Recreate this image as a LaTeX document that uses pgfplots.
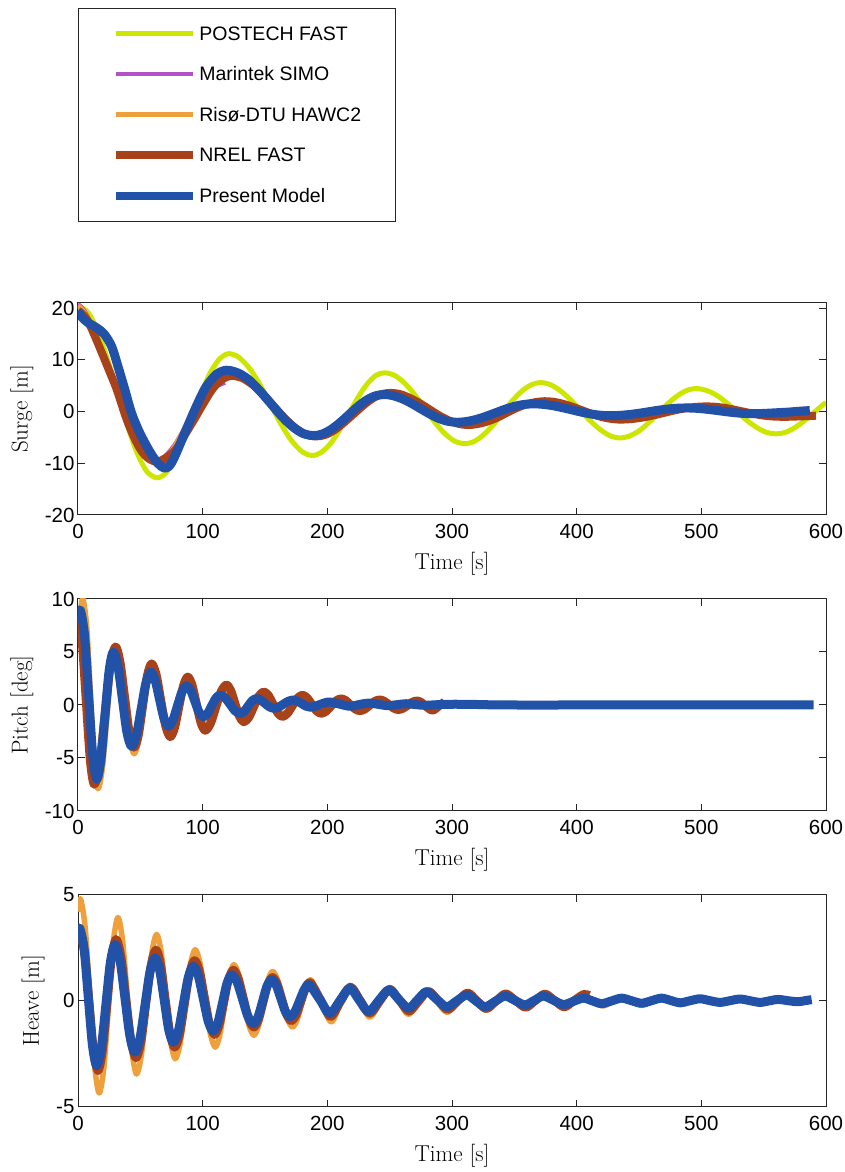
\documentclass[border=0pt]{standalone}
\usepackage{fontspec}
\usepackage{pgfplots}
\pgfplotsset{compat=1.18}
\newfontfamily\arialf{Liberation Sans}
\definecolor{postech}{RGB}{204,230,0}
\definecolor{marintek}{RGB}{180,80,200}
\definecolor{riso}{RGB}{238,160,60}
\definecolor{nrel}{RGB}{168,66,26}
\definecolor{present}{RGB}{33,82,168}
\definecolor{axc}{RGB}{38,38,38}
\pgfplotsset{
  mystyle/.style={
    scale only axis, width=748pt, height=212pt, anchor=south west,
    xmin=0, xmax=600, xtick={0,100,...,600}, xticklabels={0,100,200,300,400,500,600},
    tick align=inside, major tick length=7pt,
    axis line style={axc, line width=1pt},
    tick style={axc, line width=1pt},
    tick label style={font=\arialf\fontsize{20.5}{24}\selectfont, text=black},
    xticklabel style={yshift=-6pt},
    label style={font=\fontsize{23}{27}\selectfont},
    xlabel={Time [s]},
    xlabel style={at={(axis description cs:0.5,0)}, anchor=center, yshift=-49pt},
    every axis plot/.append style={smooth, line join=round},
  }
}
\begin{document}
\begin{tikzpicture}
\useasboundingbox (0,0) rectangle (845pt,1172pt);
% ---------------- Surge ----------------
\begin{axis}[mystyle, at={(78pt,657pt)},
  ymin=-20, ymax=21, ytick={-20,-10,0,10,20}, yticklabels={-20,-10,0,10,20},
  ylabel={Surge [m]},
  ylabel style={at={(axis description cs:-0.075,0.5)}, anchor=center},
  legend style={at={(axis description cs:0,2.393)}, anchor=north west, draw=axc, line width=0.8pt, fill=white,
    inner xsep=34pt, inner ysep=18.5pt, row sep=26.6pt, font=\arialf\fontsize{19.5}{23}\selectfont,
    nodes={inner sep=0pt, text depth=0pt},
    /tikz/every odd column/.append style={column sep=2pt}},
  legend cell align=left,
  legend image code/.code={\draw[#1] (0pt,0pt) -- (77pt,0pt);},
]
\addlegendimage{postech, line width=4.7pt}
\addlegendentry{POSTECH FAST}
\addlegendimage{marintek, line width=4.7pt}
\addlegendentry{Marintek SIMO}
\addlegendimage{riso, line width=5pt}
\addlegendentry{Risø-DTU HAWC2}
\addlegendimage{nrel, line width=8pt}
\addlegendentry{NREL FAST}
\addlegendimage{present, line width=8pt}
\addlegendentry{Present Model}

\addplot[postech, line width=5pt] coordinates {
(0,20.5)(8,19.2)(15.75,15.6)(23.6,10.2)(31.5,3.85)(39.4,-2.5)(47.25,-7.9)(55,-11.5)(63,-12.8)
(70,-12.0)(77.5,-9.3)(85,-5.3)(92,-0.8)(99,3.6)(106.5,7.7)(114,10.3)(121,11.2)
(129,10.5)(137.75,8.3)(146,5.2)(154.5,1.35)(163,-2.5)(171.25,-5.6)(180,-7.8)(188,-8.5)
(195,-7.9)(202.5,-6.2)(210,-3.5)(217,-0.5)(224,2.5)(231.5,5.2)(239,7.0)(246,7.5)
(254,7.0)(262,5.5)(270,3.3)(278,0.65)(286,-2.0)(294,-4.2)(302,-5.7)(310,-6.2)
(317.6,-5.8)(325.25,-4.5)(333,-2.6)(340.5,-0.3)(348,2.0)(355.75,3.9)(363.4,5.15)(371,5.6)
(379,5.2)(387,4.0)(395,2.3)(403,0.25)(411,-1.8)(419,-3.5)(427,-4.7)(435,-5.1)
(442.6,-4.7)(450.25,-3.7)(458,-2.1)(465.5,-0.3)(473,1.5)(480.75,3.05)(488.4,4.1)(496,4.45)
(504,4.1)(512,3.2)(520,1.76)(528,0.1)(536,-1.6)(544,-3.0)(552,-4.0)(560,-4.3)
(567.5,-4.0)(575,-3.1)(582.5,-1.8)(590,-0.25)(597.5,1.3)(600,1.7)};
\addplot[marintek, line width=4.5pt] coordinates {
(0,20.8)(5,19.5)(10,17.2)(17,13)(24,8.5)(31,4)(39,-1.8)(46,-5.6)(52,-7.8)(58,-9.0)(64,-9.3)
(70,-8.6)(78,-6.3)(87,-2.6)(95,0.6)(103,3.2)(110,4.8)(118,5.6)};
\addplot[riso, line width=5pt] coordinates {
(0,20.5)(5,19.2)(10,17)(17,12.8)(24,8.4)(31,4.2)(39,-1.6)(46,-5.5)(52,-8)(58,-9.3)(64,-9.6)
(70,-9.1)(78,-6.6)(87,-2.6)(95,0.8)(103,3.6)(110,5.4)(117,6.4)};
\addplot[nrel, line width=8pt] coordinates {
(0,19.5)(5,18.5)(10,16.5)(17,12.6)(24,8.5)(31,4.3)(39,-1.5)(46,-5.5)(52,-8)(58,-9.3)(64,-9.7)
(71,-8.9)(78.75,-7.27)(86,-4.4)(93.5,-1.4)(101,1.7)(108.25,4.47)(116,6.3)(123,6.9)
(131.5,6.5)(140,5.2)(148.5,3.3)(157,1.05)(165.5,-1.2)(174,-3.1)(182.5,-4.4)(191,-4.8)
(198.4,-4.5)(205.75,-3.57)(213,-2.2)(220.5,-0.6)(228,1.0)(235.25,2.37)(242.6,3.3)(250,3.6)
(257.9,3.4)(265.75,2.69)(273.6,1.7)(281.5,0.5)(289.4,-0.7)(297.25,-1.69)(305,-2.35)(313,-2.6)
(320.6,-2.4)(328.25,-1.93)(336,-1.2)(343.5,-0.3)(351,0.6)(358.75,1.33)(366.4,1.8)(374,2.0)
(381.6,1.88)(389.25,1.48)(397,0.9)(404.5,0.23)(412,-0.45)(419.75,-1.03)(427.4,-1.4)(435,-1.55)
(443.6,-1.45)(452.25,-1.18)(461,-0.76)(469.5,-0.28)(478,0.2)(486.75,0.63)(495.4,0.9)(504,1.0)
(511.4,0.92)(518.75,0.71)(526,0.38)(533.5,0)(541,-0.38)(548.25,-0.71)(555.6,-0.92)(563,-1.0)
(570,-1.0)(577,-0.95)(584.5,-0.88)(592,-0.8)};
\addplot[present, line width=9pt] coordinates {
(0,19.6)(3,18.3)(8,17.2)(15,16.2)(21,15.0)(27,12.6)(32,8.8)(37.5,4.3)(43,-0.3)(49.5,-4.1)
(57.5,-7.7)(64,-10.0)(69,-10.9)(73,-10.6)(77,-9.0)(84.5,-4.8)(92.5,-0.3)(98,2.6)(103,4.9)(111,7.2)(119,8.0)
(128,7.5)(136.8,6.2)(145.5,4.1)(154.2,1.68)(162.8,-0.75)(171.5,-2.8)(180.2,-4.2)(188.8,-4.65)
(195.8,-4.35)(202.85,-3.49)(209.9,-2.2)(216.9,-0.68)(223.9,0.85)(230.95,2.14)(238,3.0)(245,3.3)
(252.3,3.1)(259.7,2.51)(267,1.65)(274.35,0.62)(281.7,-0.4)(289,-1.28)(296.4,-1.86)(303.7,-2.07)
(311.4,-1.93)(319,-1.55)(326.7,-0.97)(334.35,-0.29)(342,0.4)(349.7,0.98)(357.3,1.36)(365,1.5)
(372.7,1.41)(380.4,1.16)(388.1,0.79)(395.9,0.35)(403.6,-0.09)(411.3,-0.46)(419,-0.71)(426.7,-0.8)
(434.3,-0.74)(442,-0.58)(449.7,-0.34)(457.4,-0.05)(465,0.24)(472.7,0.48)(480.3,0.64)(488,0.7)
(494.5,0.66)(501,0.54)(507.7,0.36)(514.5,0.15)(521.2,-0.06)(528,-0.24)(534.5,-0.36)(541,-0.4)
(548,-0.38)(555,-0.3)(562.5,-0.2)(570,-0.1)(578,0.05)(587,0.2)};
\end{axis}
% ---------------- Pitch ----------------
\begin{axis}[mystyle, at={(78pt,361pt)},
  ymin=-10, ymax=10, ytick={-10,-5,0,5,10}, yticklabels={-10,-5,0,5,10},
  ylabel={Pitch [deg]},
  ylabel style={at={(axis description cs:-0.075,0.5)}, anchor=center},
]
\addplot[marintek, line width=4.5pt] coordinates {
(0,8.5)(6.5,0.6)(13,-7.2)(21,-1)(29,5.2)(36.5,0.7)(44,-3.8)(51,-0.15)(58,3.5)(65.5,0.45)(73,-2.6)
(80,-0.15)(87,2.3)(94,0.15)(101,-2.0)(109.5,-0.2)(118,1.6)};
\addplot[riso, line width=5.5pt] coordinates {
(0,7.5)(2,9.0)(4,10)(7,7.38)(10,1.05)(13,-5.28)(16,-7.9)
(19.5,-6.01)(23,-1.45)(26.5,3.11)(30,5)
(33.75,3.59)(37.5,0.2)(41.25,-3.19)(45,-4.6)
(48.5,-3.43)(52,-0.6)(55.5,2.23)(59,3.4)
(62.75,2.51)(66.5,0.35)(70.25,-1.81)(74,-2.7)
(77.5,-1.98)(81,-0.25)(84.5,1.48)(88,2.2)
(91.5,1.61)(95,0.2)(98.5,-1.21)(102,-1.8)
(106,-1.33)(110,-0.2)(114,0.93)(118,1.4)
(121.75,1.02)(125.5,0.1)(129.25,-0.82)(133,-1.2)
(137,-0.89)(141,-0.15)(145,0.59)(149,0.9)
(152.75,0.65)(156.5,0.05)(160.25,-0.55)(164,-0.8)
(168,-0.6)(172,-0.1)(176,0.4)(180,0.6)
(187.5,0.05)(195,-0.5)(203,-0.08)(211,0.35)(218.5,0.03)(226,-0.3)};
\addplot[nrel, line width=8.5pt] coordinates {
(0,8.2)(3.25,5.9)(6.5,0.35)(9.75,-5.2)(13,-7.5)
(17.25,-5.6)(21.5,-1)(25.75,3.6)(30,5.5)
(33.75,4.1)(37.5,0.75)(41.25,-2.6)(45,-4)
(48.5,-2.84)(52,-0.05)(55.5,2.74)(59,3.9)
(62.75,2.89)(66.5,0.45)(70.25,-1.99)(74,-3)
(77.5,-2.17)(81,-0.18)(84.5,1.82)(88,2.65)
(91.5,1.91)(95,0.13)(98.5,-1.66)(102,-2.4)
(106.25,-1.77)(110.5,-0.25)(114.75,1.27)(119,1.9)
(122.5,1.39)(126,0.15)(129.5,-1.09)(133,-1.6)
(137,-1.18)(141,-0.18)(145,0.83)(149,1.25)
(152.75,0.91)(156.5,0.08)(160.25,-0.76)(164,-1.1)
(168,-0.8)(172,-0.08)(176,0.64)(180,0.94)
(183.75,0.68)(187.5,0.07)(191.25,-0.55)(195,-0.8)
(199,-0.6)(203,-0.1)(207,0.4)(211,0.6)
(214.75,0.43)(218.5,0.03)(222.25,-0.38)(226,-0.55)
(230,-0.4)(234,-0.03)(238,0.35)(242,0.5)
(245.75,0.36)(249.5,0.03)(253.25,-0.31)(257,-0.45)
(260.75,-0.32)(264.5,-0.03)(268.25,0.28)(272,0.4)
(275.25,0.26)(278.5,-0.05)(281.75,-0.37)(285,-0.5)
(289.5,-0.1)(294,0.3)};
\addplot[present, line width=9pt] coordinates {
(0,8.6)(2,8.9)(5.25,6.57)(8.5,0.95)(11.75,-4.67)(15,-7.0)
(18.3,-5.24)(21.65,-1)(25,3.24)(28.3,5)
(32,3.7)(35.65,0.55)(39.3,-2.6)(43,-3.9)
(46.8,-2.87)(50.65,-0.4)(54.5,2.07)(58.3,3.1)
(61.85,2.35)(65.4,0.55)(68.95,-1.25)(72.5,-2)
(76.1,-1.44)(79.75,-0.1)(83.4,1.24)(87,1.8)
(90.4,1.38)(93.75,0.35)(97.1,-0.68)(100.5,-1.1)
(103.9,-0.8)(107.25,-0.08)(110.6,0.64)(114,0.94)
(118,0.68)(122,0.07)(126,-0.55)(130,-0.8)
(133.25,-0.6)(136.5,-0.1)(139.75,0.4)(143,0.6)
(146.5,0.47)(150,0.15)(153.5,-0.17)(157,-0.3)
(161,-0.19)(164.85,0.085)(168.8,0.36)(172.7,0.47)
(176,0.37)(179.35,0.135)(182.7,-0.1)(186,-0.2)
(190,-0.13)(194,0.04)(198,0.21)(202,0.28)
(210,0.08)(218,-0.12)(226,0.05)(233,0.18)(241,0.06)(248,-0.06)(256,0.03)(263,0.12)
(271,0.04)(278,-0.03)(290,0.04)(300,0.07)(315,0.06)(330,0.02)(350,0)(400,0)(450,0)(500,0)(550,0)(590,0)};
\end{axis}
% ---------------- Heave ----------------
\begin{axis}[mystyle, at={(78pt,65.3pt)},
  ymin=-5, ymax=5, ytick={-5,0,5}, yticklabels={-5,0,5},
  ylabel={Heave [m]},
  ylabel style={at={(axis description cs:-0.060,0.5)}, anchor=center},
]
\addplot[postech, line width=5pt] coordinates {
(0,3.2)(2,3.3)(9,0.1)(16,-3.1)(23.25,-0.2)(30.5,2.7)(38.5,0.1)(46.5,-2.5)(54.5,-0.15)(62.5,2.2)
(70,0.1)(77.5,-2.0)(85.5,-0.12)(93.5,1.75)(101.5,0.1)(109.5,-1.55)(117,-0.1)(124.5,1.3)
(132.75,0.1)(141,-1.1)(148.5,-0.05)(156,1.0)(163.5,0.07)(171,-0.85)(178.75,-0.05)(186.5,0.75)
(194.5,0.05)(202.5,-0.65)(210.5,-0.05)(218.5,0.55)(226.25,0.02)(234,-0.5)(242,-0.02)(250,0.45)
(257.75,0.02)(265.5,-0.4)(273.25,-0.02)(281,0.35)(288.75,0.02)(296.5,-0.3)};
\addplot[riso, line width=5.5pt] coordinates {
(0,4.2)(2,4.8)(5.75,3.46)(9.5,0.23)(13.25,-3.01)(17,-4.35)
(20.75,-3.14)(24.5,-0.22)(28.25,2.71)(32,3.92)
(35.75,2.84)(39.5,0.23)(43.25,-2.38)(47,-3.46)
(51,-2.49)(55,-0.17)(59,2.16)(63,3.13)
(66.75,2.27)(70.5,0.2)(74.25,-1.88)(78,-2.74)
(82,-1.99)(86,-0.17)(90,1.66)(94,2.41)
(98,1.74)(102,0.11)(106,-1.52)(110,-2.19)
(113.75,-1.62)(117.5,-0.25)(121.25,1.13)(125,1.7)
(129,1.21)(133,0.04)(137,-1.14)(141,-1.63)
(144.75,-1.19)(148.5,-0.13)(152.25,0.94)(156,1.38)
(160,1.0)(164,0.07)(168,-0.86)(172,-1.24)
(175.75,-0.91)(179.5,-0.13)(183.25,0.65)(187,0.98)
(195,-0.01)(203,-1.0)(210.5,-0.15)(218,0.7)(226,-0.04)(234,-0.78)(242,-0.12)(250,0.55)
(257.5,-0.05)(265,-0.65)(272.5,-0.1)(280,0.45)(288,-0.05)(296,-0.55)(304,-0.12)(312,0.3)
(319.5,-0.07)(327,-0.45)(335,-0.1)(343,0.25)(351,-0.05)(359,-0.35)(366.5,-0.07)(374,0.2)
(382,-0.05)(390,-0.3)(397.5,-0.07)(405,0.15)(413,-0.05)(421,-0.25)(428.5,-0.06)(436,0.12)
(444,-0.05)(452,-0.22)(460,-0.06)(468,0.1)(475.5,-0.02)(483,-0.15)};
\addplot[nrel, line width=8.5pt] coordinates {
(0,3.0)(2,3.1)(5.5,2.16)(9,-0.1)(12.5,-2.36)(16,-3.3)
(19.6,-2.39)(23.25,-0.2)(26.9,1.99)(30.5,2.9)
(34.5,2.08)(38.5,0.1)(42.5,-1.88)(46.5,-2.7)
(50.5,-1.95)(54.5,-0.15)(58.5,1.65)(62.5,2.4)
(66.25,1.73)(70,0.1)(73.75,-1.53)(77.5,-2.2)
(81.5,-1.6)(85.5,-0.15)(89.5,1.3)(93.5,1.9)
(97.5,1.39)(101.5,0.15)(105.5,-1.09)(109.5,-1.6)
(113.25,-1.15)(117,-0.08)(120.75,1.0)(124.5,1.45)
(128.6,1.05)(132.75,0.1)(136.9,-0.85)(141,-1.25)
(144.75,-0.91)(148.5,-0.08)(152.25,0.76)(156,1.1)
(159.75,0.8)(163.5,0.08)(167.25,-0.65)(171,-0.95)
(174.9,-0.69)(178.75,-0.05)(182.6,0.59)(186.5,0.85)
(194.5,0.05)(202.5,-0.75)(210.5,-0.05)(218.5,0.65)(226.25,0.025)(234,-0.6)(242,-0.025)(250,0.55)
(257.75,0.025)(265.5,-0.5)(273.25,-0.025)(281,0.45)(288.75,0.015)(296.5,-0.42)(304.5,-0.025)(312.5,0.37)
(320,-0.005)(327.5,-0.38)(335.25,-0.025)(343,0.33)(351,0.005)(359,-0.32)(366.75,0)(374.5,0.32)
(382.25,0.01)(390,-0.3)(397.75,0)(405.5,0.3)(410,0.25)};
\addplot[present, line width=9pt] coordinates {
(0,3.3)(1.5,3.4)(4.9,2.45)(8.25,0.17)(11.6,-2.1)(15,-3.06)
(18.7,-2.22)(22.35,-0.21)(26,1.81)(29.7,2.65)
(33.7,1.91)(37.7,0.11)(41.7,-1.69)(45.7,-2.43)
(49.7,-1.78)(53.75,-0.21)(57.8,1.37)(61.8,2.02)
(65.5,1.44)(69.15,0.04)(72.8,-1.37)(76.5,-1.95)
(80.5,-1.43)(84.5,-0.17)(88.5,1.1)(92.5,1.62)
(96.5,1.17)(100.5,0.1)(104.5,-0.98)(108.5,-1.43)
(112.2,-1.04)(115.9,-0.11)(119.6,0.83)(123.3,1.22)
(127.6,0.88)(132,0.07)(136.3,-0.74)(140.6,-1.08)
(144.3,-0.78)(148,-0.05)(151.6,0.69)(155.3,0.99)
(159,0.73)(162.65,0.12)(166.3,-0.5)(170,-0.76)
(173.9,-0.53)(177.75,0)(181.6,0.53)(185.5,0.75)
(193.75,0.075)(202,-0.6)(210,0)(218,0.59)(225.5,0.035)(233,-0.52)(241.15,0)(249.3,0.51)
(257.15,0.075)(265,-0.36)(272.3,0.035)(279.6,0.43)(287.65,0.07)(295.7,-0.29)(303.75,-0.01)(311.8,0.27)
(319.15,-0.01)(326.5,-0.29)(334.5,-0.035)(342.5,0.22)(350.5,0.01)(358.5,-0.2)(365.9,0.01)(373.3,0.22)
(381.35,0.02)(389.4,-0.18)(397.4,-0.03)(405.4,0.12)(412.7,-0.01)(420,-0.14)(428,-0.01)(436,0.12)
(444,0)(452,-0.12)(460,0)(468,0.12)(475.5,0.01)(483,-0.1)(491,0)(499,0.09)
(507,0)(515,-0.08)(523,0)(531,0.08)(539,0)(547,-0.08)(554.25,-0.01)(561.5,0.06)
(569.5,0)(577.5,-0.05)(583,0)(588.5,0.05)};
\end{axis}
\end{tikzpicture}
\end{document}
